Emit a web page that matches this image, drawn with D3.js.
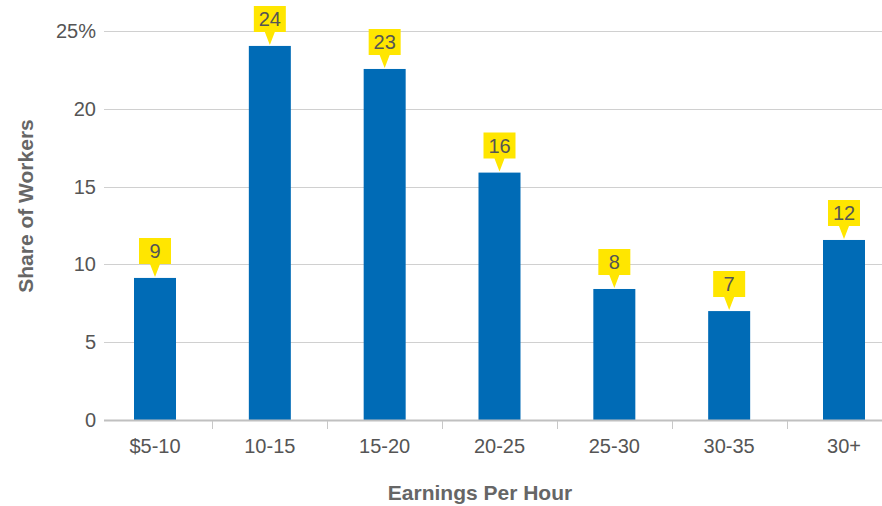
<html>
<head>
    <script src="https://cdnjs.cloudflare.com/ajax/libs/d3/7.8.5/d3.min.js"></script>
    <style>
        body { margin: 0; background: #fff; }
        text { font-family: "Liberation Sans", Arial, sans-serif; }
    </style>
</head>
<body>
    <svg width="882" height="506"></svg>
    <script>
        var categories = ["$5-10", "10-15", "15-20", "20-25", "25-30", "30-35", "30+"];
        var shares = [9.13, 24.04, 22.56, 15.9, 8.42, 7.0, 11.57];
        var labels = ["9", "24", "23", "16", "8", "7", "12"];
        var yTicks = [0, 5, 10, 15, 20, 25];

        var svg = d3.select("svg");
        var barW = 42;

        // centers of the bars
        var xScale = d3.scalePoint().domain(categories).range([155, 844]);
        var step = xScale.step();
        var yScale = d3.scaleLinear().domain([0, 25]).range([420, 31]);

        // gridlines
        svg.append("g")
           .selectAll("line")
           .data(yTicks.filter(d => d > 0))
           .enter()
           .append("line")
           .attr("x1", 104).attr("x2", 882)
           .attr("y1", d => Math.round(yScale(d)) + 0.5)
           .attr("y2", d => Math.round(yScale(d)) + 0.5)
           .attr("stroke", "#d0d0d0")
           .attr("stroke-width", 1);

        // y labels
        svg.append("g")
           .selectAll("text")
           .data(yTicks)
           .enter()
           .append("text")
           .attr("x", 96)
           .attr("y", d => yScale(d) + 7)
           .attr("text-anchor", "end")
           .attr("font-size", 20)
           .attr("fill", "#555")
           .text(d => d == 25 ? "25%" : d);

        // bars
        svg.append("g")
           .selectAll("rect")
           .data(shares)
           .enter()
           .append("rect")
           .attr("x", (d, i) => xScale(categories[i]) - barW / 2)
           .attr("y", d => yScale(d))
           .attr("width", barW)
           .attr("height", d => yScale(0) - yScale(d))
           .attr("fill", "#006bb6");

        // x axis line and ticks
        svg.append("line")
           .attr("x1", 104).attr("x2", 882)
           .attr("y1", 420.5).attr("y2", 420.5)
           .attr("stroke", "#c0c0c0")
           .attr("stroke-width", 2);

        svg.append("g")
           .selectAll("line")
           .data(categories.slice(0, -1))
           .enter()
           .append("line")
           .attr("x1", d => Math.round(xScale(d) + step / 2) + 0.5)
           .attr("x2", d => Math.round(xScale(d) + step / 2) + 0.5)
           .attr("y1", 421).attr("y2", 429)
           .attr("stroke", "#c8c8c8");

        svg.append("g")
           .selectAll("text")
           .data(categories)
           .enter()
           .append("text")
           .attr("x", d => xScale(d))
           .attr("y", 453)
           .attr("text-anchor", "middle")
           .attr("font-size", 20)
           .attr("fill", "#555")
           .text(d => d);

        // yellow callouts
        var callouts = svg.append("g")
           .selectAll("g")
           .data(shares)
           .enter()
           .append("g")
           .attr("transform", (d, i) => "translate(" + xScale(categories[i]) + "," + yScale(d) + ")");

        callouts.append("path")
           .attr("d", "M-16,-40 H16 V-14 H5 L0,-1 L-5,-14 H-16 Z")
           .attr("fill", "#ffe600");

        callouts.append("text")
           .attr("x", 0)
           .attr("y", -20)
           .attr("text-anchor", "middle")
           .attr("font-size", 20)
           .attr("fill", "#555")
           .text((d, i) => labels[i]);

        // axis titles
        svg.append("text")
           .attr("x", 480)
           .attr("y", 500)
           .attr("text-anchor", "middle")
           .attr("font-size", 21)
           .attr("font-weight", "bold")
           .attr("fill", "#666")
           .text("Earnings Per Hour");

        svg.append("text")
           .attr("transform", "translate(33,206) rotate(-90)")
           .attr("text-anchor", "middle")
           .attr("font-size", 21)
           .attr("font-weight", "bold")
           .attr("fill", "#666")
           .text("Share of Workers");
    </script>
</body>
</html>
